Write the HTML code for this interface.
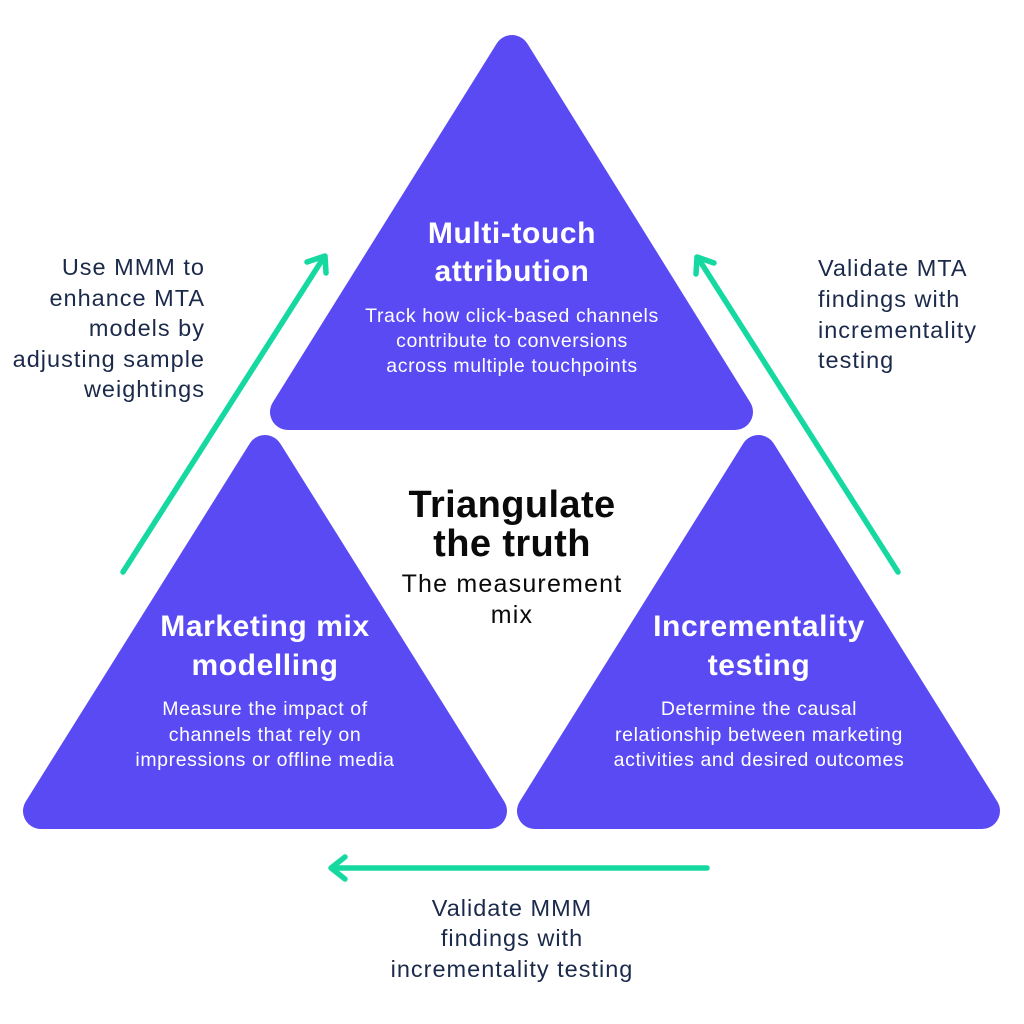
<!DOCTYPE html>
<html>
<head>
<meta charset="utf-8">
<style>
  html, body { margin: 0; padding: 0; background: #ffffff; }
  svg { display: block; }
  .t { font-family: "Liberation Sans", "DejaVu Sans", sans-serif; }
</style>
</head>
<body>
<svg width="1024" height="1024" viewBox="0 0 1024 1024" xmlns="http://www.w3.org/2000/svg">
  <rect width="1024" height="1024" fill="#ffffff"/>

  <!-- Triangles (rounded via round stroke joins) -->
  <g fill="#5a4af4" stroke="#5a4af4" stroke-width="36" stroke-linejoin="round">
    <polygon points="512,53 288,412 735,412"/>
    <polygon points="265,453 41,811 489,811"/>
    <polygon points="758.5,453 535,811 982,811"/>
  </g>

  <!-- Arrows -->
  <g stroke="#16d9a2" stroke-width="5.5" stroke-linecap="round" stroke-linejoin="round" fill="none">
    <line x1="123" y1="572" x2="324" y2="257"/>
    <polyline points="307,262 325,256 326,273"/>
    <line x1="898" y1="572" x2="698" y2="258"/>
    <polyline points="714,263 697,257 696,274"/>
    <line x1="707" y1="868" x2="332" y2="868"/>
    <polyline points="345,857 331,868 345,879"/>
  </g>

  <!-- Triangle titles -->
  <g class="t" fill="#ffffff" font-weight="bold" font-size="30" letter-spacing="0.6" text-anchor="middle">
    <text x="512" y="243">Multi-touch</text>
    <text x="512" y="281">attribution</text>
    <text x="265" y="636">Marketing mix</text>
    <text x="265" y="675">modelling</text>
    <text x="759" y="636">Incrementality</text>
    <text x="759" y="675">testing</text>
  </g>

  <!-- Triangle descriptions -->
  <g class="t" fill="#ffffff" font-size="19.5" letter-spacing="0.6" text-anchor="middle">
    <text x="512" y="322">Track how click-based channels</text>
    <text x="512" y="347">contribute to conversions</text>
    <text x="512" y="372">across multiple touchpoints</text>
    <text x="265" y="715">Measure the impact of</text>
    <text x="265" y="741">channels that rely on</text>
    <text x="265" y="766">impressions or offline media</text>
    <text x="759" y="715">Determine the causal</text>
    <text x="759" y="741">relationship between marketing</text>
    <text x="759" y="766">activities and desired outcomes</text>
  </g>

  <!-- Center title -->
  <g class="t" fill="#0a0a0a" text-anchor="middle">
    <text x="512" y="517" font-size="38" font-weight="bold" letter-spacing="0.4">Triangulate</text>
    <text x="512" y="556" font-size="38" font-weight="bold" letter-spacing="0.4">the truth</text>
    <text x="512" y="592" font-size="25" letter-spacing="1.2">The measurement</text>
    <text x="512" y="623" font-size="25" letter-spacing="1.2">mix</text>
  </g>

  <!-- Side texts -->
  <g class="t" fill="#1b2a4a" font-size="23.5" letter-spacing="1">
    <g text-anchor="end">
      <text x="205" y="275">Use MMM to</text>
      <text x="205" y="306">enhance MTA</text>
      <text x="205" y="336">models by</text>
      <text x="205" y="367">adjusting sample</text>
      <text x="205" y="397">weightings</text>
    </g>
    <g text-anchor="start">
      <text x="818" y="276">Validate MTA</text>
      <text x="818" y="307">findings with</text>
      <text x="818" y="338">incrementality</text>
      <text x="818" y="368">testing</text>
    </g>
    <g text-anchor="middle">
      <text x="512" y="916">Validate MMM</text>
      <text x="512" y="946">findings with</text>
      <text x="512" y="977">incrementality testing</text>
    </g>
  </g>
</svg>
</body>
</html>
